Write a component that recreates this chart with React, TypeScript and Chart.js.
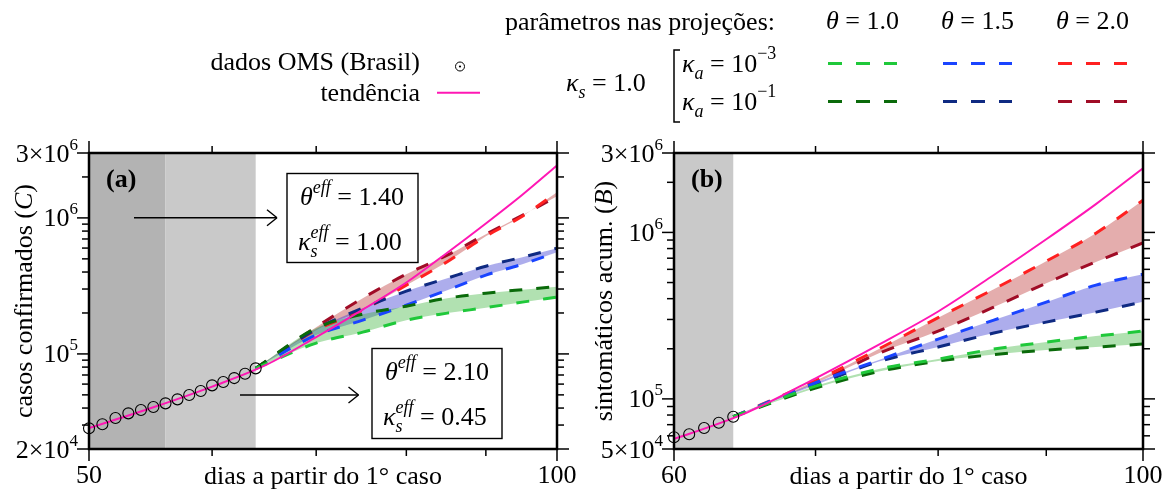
import React, { useEffect, useRef } from 'react';
import { Chart, registerables } from 'chart.js';
Chart.register(...registerables);

const FONT = '"Liberation Serif", "Times New Roman", serif';

// ---------- data ----------
const obsDaysA = [50, 51, 52, 53, 54, 55, 56, 57, 58, 59, 60, 61, 62, 63, 64];
const obsCasesA = [28380, 30380, 33800, 36560, 38680, 40690, 43300, 46340, 49850, 53330, 58740, 62100, 66440, 71450, 78300];
const obsDaysB = [60, 61, 62, 63, 64];
const obsCasesB = [58800, 61300, 66830, 71940, 78150];

const trendDays = [50, 55, 60, 65, 70, 75, 80, 85, 90, 95, 100];
const trendCases = [28500, 40500, 57500, 83000, 133000, 212000, 335000, 555000, 910000, 1480000, 2430000];

const projDays = [64, 70, 75, 80, 85, 90, 95, 100];
// panel (a): casos confirmados
const aTh10Ka3 = [78300, 120100, 144600, 177200, 199500, 218900, 240300, 261500];
const aTh10Ka1 = [78300, 154800, 196100, 224500, 257000, 279700, 296800, 312200];
const aTh15Ka3 = [78300, 137500, 177200, 228300, 294300, 379300, 456800, 559600];
const aTh15Ka1 = [78300, 152200, 217100, 289300, 360600, 441600, 514200, 598600];
const aTh20Ka3 = [78300, 149600, 209900, 320200, 476500, 733600, 1028500, 1543000];
const aTh20Ka1 = [78300, 157400, 257000, 385800, 531900, 758600, 1046000, 1442000];
// panel (b): sintomáticos acumulados
const bTh10Ka3 = [78150, 119400, 151100, 173400, 199200, 219400, 238400, 255400];
const bTh10Ka1 = [78150, 116200, 145900, 168700, 184600, 196400, 204700, 213400];
const bTh15Ka3 = [78150, 125000, 171100, 228700, 297300, 381300, 482300, 561400];
const bTh15Ka1 = [78150, 121100, 167600, 204800, 248500, 289200, 332000, 382800];
const bTh20Ka3 = [78150, 128500, 199700, 307700, 456300, 671900, 989000, 1561000];
const bTh20Ka1 = [78150, 124000, 187700, 255400, 355900, 495800, 665300, 865000];

// ticks
const xTicksA = [50, 60, 70, 80, 90, 100];
const xLabelsA = ['50', '', '', '', '', '100'];
const xTicksB = [60, 70, 80, 90, 100];
const xLabelsB = ['60', '', '', '', '100'];
const yTicksA = [2e4, 3e4, 4e4, 5e4, 6e4, 7e4, 8e4, 9e4, 1e5, 2e5, 3e5, 4e5, 5e5, 6e5, 7e5, 8e5, 9e5, 1e6, 2e6, 3e6];
const yTicksB = [5e4, 6e4, 7e4, 8e4, 9e4, 1e5, 2e5, 3e5, 4e5, 5e5, 6e5, 7e5, 8e5, 9e5, 1e6, 2e6, 3e6];
const yLabelValsA = [2e4, 1e5, 1e6, 3e6];
const yLabelMantA = ['2×10', '10', '10', '3×10'];
const yLabelExpA = ['4', '5', '6', '6'];
const yLabelValsB = [5e4, 1e5, 1e6, 3e6];
const yLabelMantB = ['5×10', '10', '10', '3×10'];
const yLabelExpB = ['4', '5', '6', '6'];

const shadeEdgesA = [50, 56, 64];
const shadeEdgesB = [60, 64];

// ---------- styles ----------
const PINK = '#ff17b4';
const C_G1 = '#1fc83a';
const C_G2 = '#0a6a0a';
const C_B1 = '#1a44ff';
const C_B2 = '#0f2a82';
const C_R1 = '#ff2020';
const C_R2 = '#a00c26';
const F_G = 'rgba(60,180,60,0.40)';
const F_B = 'rgba(60,60,210,0.42)';
const F_R = 'rgba(190,60,60,0.42)';

type Seg = { t: string; s?: number; it?: boolean; b?: boolean; dy?: number; na?: boolean };
function fnt(g: Seg) {
  return `${g.it ? 'italic ' : ''}${g.b ? 'bold ' : ''}${g.s || 26}px ${FONT}`;
}
function rich(ctx: CanvasRenderingContext2D, segs: Seg[], x: number, y: number, align = 'left') {
  ctx.textAlign = 'left';
  ctx.textBaseline = 'alphabetic';
  let w = 0;
  const ws = segs.map((g) => {
    ctx.font = fnt(g);
    const m = ctx.measureText(g.t).width;
    if (!g.na) w += m;
    return m;
  });
  let cx = align === 'left' ? x : align === 'right' ? x - w : x - w / 2;
  segs.forEach((g, i) => {
    ctx.font = fnt(g);
    ctx.fillText(g.t, cx, y + (g.dy || 0));
    if (!g.na) cx += ws[i];
  });
}
function line(ctx: CanvasRenderingContext2D, x1: number, y1: number, x2: number, y2: number) {
  ctx.beginPath();
  ctx.moveTo(x1, y1);
  ctx.lineTo(x2, y2);
  ctx.stroke();
}
function arrow(ctx: CanvasRenderingContext2D, x1: number, x2: number, y: number) {
  ctx.lineWidth = 1.4;
  ctx.strokeStyle = '#000';
  line(ctx, x1, y, x2, y);
  line(ctx, x2, y, x2 - 10, y - 8);
  line(ctx, x2, y, x2 - 10, y + 8);
}
function effBox(ctx: CanvasRenderingContext2D, x: number, y: number, w: number, h: number, th: string, ks: string) {
  ctx.lineWidth = 1.4;
  ctx.strokeStyle = '#000';
  ctx.strokeRect(x, y, w, h);
  rich(ctx, [{ t: 'θ', it: true }, { t: 'eff', it: true, s: 18, dy: -12 }, { t: ' = ' + th }], x + 13, y + 31.5);
  rich(ctx, [{ t: 'κ', it: true }, { t: 's', it: true, s: 18, dy: 7, na: true }, { t: 'eff', it: true, s: 18, dy: -12 }, { t: ' = ' + ks }], x + 11, y + 76);
}

function drawLegend(ctx: CanvasRenderingContext2D) {
  ctx.fillStyle = '#000';
  rich(ctx, [{ t: 'dados OMS (Brasil)' }], 420, 70, 'right');
  rich(ctx, [{ t: 'tendência' }], 420, 101, 'right');
  ctx.strokeStyle = '#000';
  ctx.lineWidth = 1;
  ctx.beginPath();
  ctx.arc(460, 66.5, 4.5, 0, Math.PI * 2);
  ctx.stroke();
  ctx.beginPath();
  ctx.arc(460, 66.5, 1.1, 0, Math.PI * 2);
  ctx.fill();
  ctx.strokeStyle = PINK;
  ctx.lineWidth = 2;
  line(ctx, 437, 92.7, 480, 92.7);

  rich(ctx, [{ t: 'parâmetros nas projeções:' }], 505, 30);
  const thetas = ['1.0', '1.5', '2.0'];
  const colX = [826, 941, 1056];
  thetas.forEach((t, i) => rich(ctx, [{ t: 'θ', it: true }, { t: ' = ' + t }], colX[i], 29));
  rich(ctx, [{ t: 'κ', it: true }, { t: 's', it: true, s: 18, dy: 7 }, { t: ' = 1.0' }], 566, 91);
  ctx.strokeStyle = '#000';
  ctx.lineWidth = 1.5;
  ctx.beginPath();
  ctx.moveTo(680, 50);
  ctx.lineTo(674, 50);
  ctx.lineTo(674, 122);
  ctx.lineTo(680, 122);
  ctx.stroke();
  rich(ctx, [{ t: 'κ', it: true }, { t: 'a', it: true, s: 18, dy: 7 }, { t: ' = 10' }, { t: '−3', s: 18, dy: -13 }], 682, 72);
  rich(ctx, [{ t: 'κ', it: true }, { t: 'a', it: true, s: 18, dy: 7 }, { t: ' = 10' }, { t: '−1', s: 18, dy: -13 }], 682, 110);
  const rows = [[C_G1, C_B1, C_R1], [C_G2, C_B2, C_R2]];
  const rowY = [63.5, 101.5];
  ctx.lineWidth = 3;
  ctx.setLineDash([14, 14]);
  rows.forEach((cols, r) =>
    cols.forEach((c, i) => {
      ctx.strokeStyle = c;
      line(ctx, colX[i] + 2, rowY[r], colX[i] + 71, rowY[r]);
    })
  );
  ctx.setLineDash([]);
}

type PanelCfg = {
  obsDays: number[];
  obs: number[];
  proj: { vals: number[]; color: string; fill?: string }[];
  xmin: number; xmax: number; ymin: number; ymax: number;
  pad: { left: number; right: number; top: number; bottom: number };
  xTicks: number[]; xLabels: string[];
  yTicks: number[]; yLabVals: number[]; yLabMant: string[]; yLabExp: string[];
  shadeEdges: number[]; shadeColors: string[];
  yTitle: Seg[]; yTitleX: number; tag: string;
  extra?: (ctx: CanvasRenderingContext2D) => void;
};

function makeChart(canvas: HTMLCanvasElement, P: PanelCfg) {
  const datasets: any[] = [
    {
      data: P.obsDays.map((d, i) => ({ x: d, y: P.obs[i] })),
      showLine: false,
      pointRadius: 5.5,
      pointBorderColor: '#000',
      pointBackgroundColor: 'rgba(0,0,0,0)',
      pointBorderWidth: 1.1,
      clip: false,
    },
    {
      data: trendDays.map((d, i) => ({ x: d, y: trendCases[i] })),
      borderColor: PINK,
      borderWidth: 2,
      pointRadius: 0,
      cubicInterpolationMode: 'monotone',
      fill: false,
    },
    ...P.proj.map((p) => ({
      data: projDays.map((d, j) => ({ x: d, y: p.vals[j] })),
      borderColor: p.color,
      borderWidth: 3,
      borderDash: [13, 14],
      pointRadius: 0,
      cubicInterpolationMode: 'monotone',
      fill: p.fill ? { target: '+1', above: p.fill, below: p.fill } : false,
    })),
  ];
  const deco = {
    id: 'deco',
    beforeDraw(chart: any) {
      const ctx = chart.ctx as CanvasRenderingContext2D;
      const { top, bottom } = chart.chartArea;
      const xs = chart.scales.x;
      for (let i = 0; i < P.shadeEdges.length - 1; i++) {
        const x1 = xs.getPixelForValue(P.shadeEdges[i]);
        const x2 = xs.getPixelForValue(P.shadeEdges[i + 1]);
        ctx.fillStyle = P.shadeColors[i];
        ctx.fillRect(x1, top, x2 - x1, bottom - top);
      }
    },
    afterDraw(chart: any) {
      const ctx = chart.ctx as CanvasRenderingContext2D;
      const { left, right, top, bottom } = chart.chartArea;
      const xs = chart.scales.x;
      const ys = chart.scales.y;
      ctx.save();
      ctx.strokeStyle = '#000';
      ctx.fillStyle = '#000';
      ctx.lineWidth = 1.5;
      P.yTicks.forEach((v) => {
        const py = ys.getPixelForValue(v);
        const len = P.yLabVals.includes(v) ? 12 : 7;
        line(ctx, left - len, py, left, py);
        line(ctx, right, py, right + len, py);
      });
      P.xTicks.forEach((v, i) => {
        const px = xs.getPixelForValue(v);
        const len = P.xLabels[i] ? 12 : 7;
        line(ctx, px, bottom, px, bottom + len);
        line(ctx, px, top, px, top - len);
        if (P.xLabels[i]) rich(ctx, [{ t: P.xLabels[i] }], px, 483, 'center');
      });
      ctx.lineWidth = 2.5;
      ctx.strokeRect(left, top, right - left, bottom - top);
      P.yLabVals.forEach((v, i) => {
        const py = ys.getPixelForValue(v);
        rich(ctx, [{ t: P.yLabMant[i] }, { t: P.yLabExp[i], s: 17, dy: -12 }], left - 11, py + 8.5, 'right');
      });
      rich(ctx, [{ t: 'dias a partir do 1° caso' }], (left + right) / 2, 484, 'center');
      ctx.save();
      ctx.translate(P.yTitleX, (top + bottom) / 2);
      ctx.rotate(-Math.PI / 2);
      rich(ctx, P.yTitle, 0, 0, 'center');
      ctx.restore();
      rich(ctx, [{ t: P.tag, b: true }], left + 17, 187);
      if (P.extra) P.extra(ctx);
      ctx.restore();
    },
  };
  return new Chart(canvas, {
    type: 'line',
    data: { datasets },
    options: {
      animation: false,
      responsive: false,
      events: [],
      layout: { padding: P.pad },
      scales: {
        x: { type: 'logarithmic', min: P.xmin, max: P.xmax, display: false },
        y: { type: 'logarithmic', min: P.ymin, max: P.ymax, display: false },
      },
      plugins: {
        legend: { display: false },
        tooltip: { enabled: false },
        filler: { drawTime: 'beforeDatasetsDraw' },
      },
    } as any,
    plugins: [deco],
  } as any);
}

export default function App() {
  const refA = useRef<HTMLCanvasElement>(null);
  const refB = useRef<HTMLCanvasElement>(null);
  useEffect(() => {
    const a = makeChart(refA.current as HTMLCanvasElement, {
      obsDays: obsDaysA,
      obs: obsCasesA,
      proj: [
        { vals: aTh10Ka3, color: C_G1, fill: F_G },
        { vals: aTh10Ka1, color: C_G2 },
        { vals: aTh15Ka3, color: C_B1, fill: F_B },
        { vals: aTh15Ka1, color: C_B2 },
        { vals: aTh20Ka3, color: C_R1, fill: F_R },
        { vals: aTh20Ka1, color: C_R2 },
      ],
      xmin: 50, xmax: 100, ymin: 2e4, ymax: 3e6,
      pad: { left: 89, right: 1169 - 557, top: 153, bottom: 494 - 449 },
      xTicks: xTicksA, xLabels: xLabelsA,
      yTicks: yTicksA, yLabVals: yLabelValsA, yLabMant: yLabelMantA, yLabExp: yLabelExpA,
      shadeEdges: shadeEdgesA, shadeColors: ['#b3b3b3', '#c9c9c9'],
      yTitle: [{ t: 'casos confirmados (' }, { t: 'C', it: true }, { t: ')' }],
      yTitleX: 31.5,
      tag: '(a)',
      extra: (ctx) => {
        arrow(ctx, 134, 277, 217.7);
        arrow(ctx, 240, 358.5, 395);
        effBox(ctx, 287, 173.5, 131, 89, '1.40', '1.00');
        effBox(ctx, 372, 348.5, 130, 90, '2.10', '0.45');
        drawLegend(ctx);
      },
    });
    const b = makeChart(refB.current as HTMLCanvasElement, {
      obsDays: obsDaysB,
      obs: obsCasesB,
      proj: [
        { vals: bTh10Ka3, color: C_G1, fill: F_G },
        { vals: bTh10Ka1, color: C_G2 },
        { vals: bTh15Ka3, color: C_B1, fill: F_B },
        { vals: bTh15Ka1, color: C_B2 },
        { vals: bTh20Ka3, color: C_R1, fill: F_R },
        { vals: bTh20Ka1, color: C_R2 },
      ],
      xmin: 60, xmax: 100, ymin: 5e4, ymax: 3e6,
      pad: { left: 674, right: 1169 - 1143, top: 153, bottom: 494 - 449 },
      xTicks: xTicksB, xLabels: xLabelsB,
      yTicks: yTicksB, yLabVals: yLabelValsB, yLabMant: yLabelMantB, yLabExp: yLabelExpB,
      shadeEdges: shadeEdgesB, shadeColors: ['#c9c9c9'],
      yTitle: [{ t: 'sintomáticos acum. (' }, { t: 'B', it: true }, { t: ')' }],
      yTitleX: 612,
      tag: '(b)',
    });
    return () => {
      a.destroy();
      b.destroy();
    };
  }, []);
  return (
    <div style={{ position: 'absolute', left: 0, top: 0, width: 1169, height: 494, background: '#fff', overflow: 'hidden' }}>
      <canvas ref={refA} width={1169} height={494} style={{ position: 'absolute', left: 0, top: 0 }} />
      <canvas ref={refB} width={1169} height={494} style={{ position: 'absolute', left: 0, top: 0 }} />
    </div>
  );
}
